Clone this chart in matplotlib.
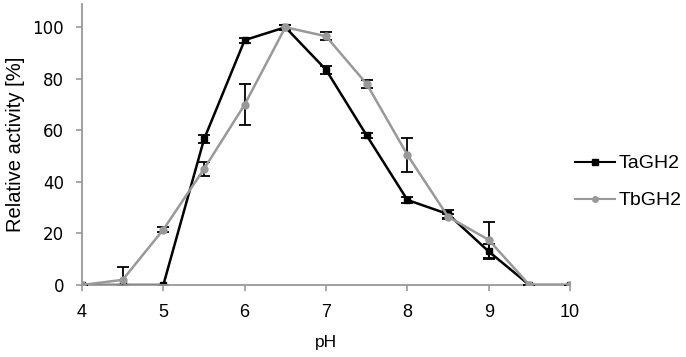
import matplotlib
matplotlib.use("Agg")
import matplotlib.pyplot as plt
from matplotlib.lines import Line2D

plt.rcParams['font.family'] = ['Liberation Sans', 'DejaVu Sans']

# pH values and relative activity (%)
ph = [4, 4.5, 5, 5.5, 6, 6.5, 7, 7.5, 8, 8.5, 9, 9.5, 10]
ta_gh2 = [0, 0, 0, 56.5, 95, 100, 83.5, 58, 33, 27.5, 13, 0, 0]
ta_err = [0, 0, 0, 1.5, 1, 1, 1.5, 1, 1, 1.5, 3, 0, 0]
tb_gh2 = [0, 2, 21.5, 45, 70, 100, 96.5, 78, 50.5, 26.5, 17.5, 0, 0]
tb_err = [0, 5, 1, 2.7, 8, 1, 1.5, 1.5, 6.6, 1, 7, 0, 0]

xticks = [4, 5, 6, 7, 8, 9, 10]
yticks = [0, 20, 40, 60, 80, 100]

fig = plt.figure(figsize=(6.86, 3.57), dpi=100)
ax = fig.add_axes([0.1195, 0.2017, 0.7115, 0.787])

ax.errorbar(ph, ta_gh2, yerr=ta_err, color='black', ecolor='black',
            elinewidth=1.3, capsize=4, capthick=1.3, marker='s', markersize=5,
            linewidth=1.8, zorder=2)
ax.errorbar(ph, tb_gh2, yerr=tb_err, color='#999999', ecolor='black',
            elinewidth=1.3, capsize=4, capthick=1.3, marker='o', markersize=5,
            linewidth=1.8, zorder=3)

ax.set_xlim(4, 10)
ax.set_ylim(0, 109)
ax.set_xticks(xticks)
ax.set_yticks(yticks)
ax.tick_params(color='#999999', length=4, width=1.2)
ax.tick_params(axis='x', pad=10, labelsize=13)
ax.tick_params(axis='y', pad=9)
for t in ax.get_yticklabels():
    t.set_fontfamily('DejaVu Sans')
    t.set_fontsize(12)

for s in ['top', 'right']:
    ax.spines[s].set_visible(False)
for s in ['left', 'bottom']:
    ax.spines[s].set_color('#999999')
    ax.spines[s].set_linewidth(1.3)

ax.set_xlabel('pH', fontsize=12.5, labelpad=10)
ax.set_ylabel('Relative activity [%]', fontsize=14.5, labelpad=5)

handles = [Line2D([], [], color='black', marker='s', markersize=4, linewidth=1.5),
           Line2D([], [], color='#999999', marker='o', markersize=4, linewidth=1.5)]
fig.legend(handles, ['TaGH2', 'TbGH2'], loc='center left',
           bbox_to_anchor=(0.838, 0.49), frameon=False, fontsize=14,
           handlelength=2.05, labelspacing=1.0, handletextpad=0.2,
           borderpad=0, borderaxespad=0)

fig.savefig('out.png', dpi=100)
